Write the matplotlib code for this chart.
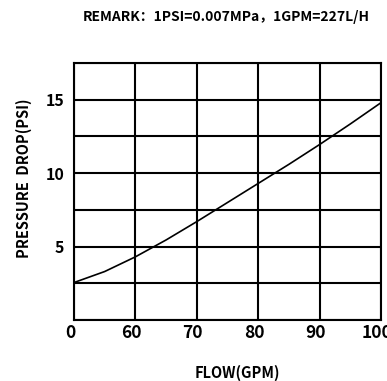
import numpy as np
import matplotlib.pyplot as plt
import matplotlib.transforms as mtransforms

# flow ticks (equally spaced on the chart) and pressure drop readings
flow_labels = ['0', '60', '70', '80', '90', '100']
flow_pos = [0, 0.5, 1, 1.5, 2, 2.5, 3, 3.5, 4, 4.5, 5]
pressure = [2.55, 3.3, 4.3, 5.45, 6.7, 8.0, 9.3, 10.6, 11.95, 13.35, 14.8]
y_ticks = [5, 10, 15]

fam = ['Noto Sans CJK SC', 'DejaVu Sans']

fig = plt.figure(figsize=(3.87, 3.81), dpi=100)
ax = fig.add_axes([0.191, 0.160, 0.794, 0.675])

ax.plot(flow_pos, pressure, color='black', lw=1.2, zorder=3)

ax.set_xlim(0, 5)
ax.set_ylim(0, 17.5)
ax.set_xticks(range(len(flow_labels)))
ax.set_xticklabels(flow_labels)
grid_y = np.arange(0, 17.6, 2.5)
ax.set_yticks(grid_y)
ax.set_yticklabels([str(int(v)) if v in y_ticks else '' for v in grid_y])

ax.grid(True, color='black', lw=1.5)
for s in ax.spines.values():
    s.set_linewidth(1.5)
ax.tick_params(length=0)
ax.tick_params(axis='x', pad=3)
ax.tick_params(axis='y', pad=7)

for lab in ax.get_xticklabels():
    lab.set_family(fam)
    lab.set_fontweight('black')
    lab.set_fontsize(12.5)
for lab in ax.get_yticklabels():
    lab.set_family(fam)
    lab.set_fontweight('black')
    lab.set_fontsize(11.5)

# nudge the x labels a little to the left of their grid lines
shift = mtransforms.ScaledTranslation(-4 / 100, 0, fig.dpi_scale_trans)
for lab in ax.get_xticklabels():
    lab.set_transform(lab.get_transform() + shift)

ax.set_xlabel('FLOW(GPM)', family=fam, fontweight='black', fontsize=10.5)
ax.xaxis.set_label_coords(0.531, -0.175)
ax.set_ylabel('PRESSURE  DROP(PSI)', family=fam, fontweight='black', fontsize=10.5)
ax.yaxis.set_label_coords(-0.135, 0.553)
fig.text(0.584, 0.955, 'REMARK：1PSI=0.007MPa，1GPM=227L/H', family=fam,
         fontweight='black', fontsize=10, ha='center', va='center')

plt.savefig('out.png', dpi=100)
